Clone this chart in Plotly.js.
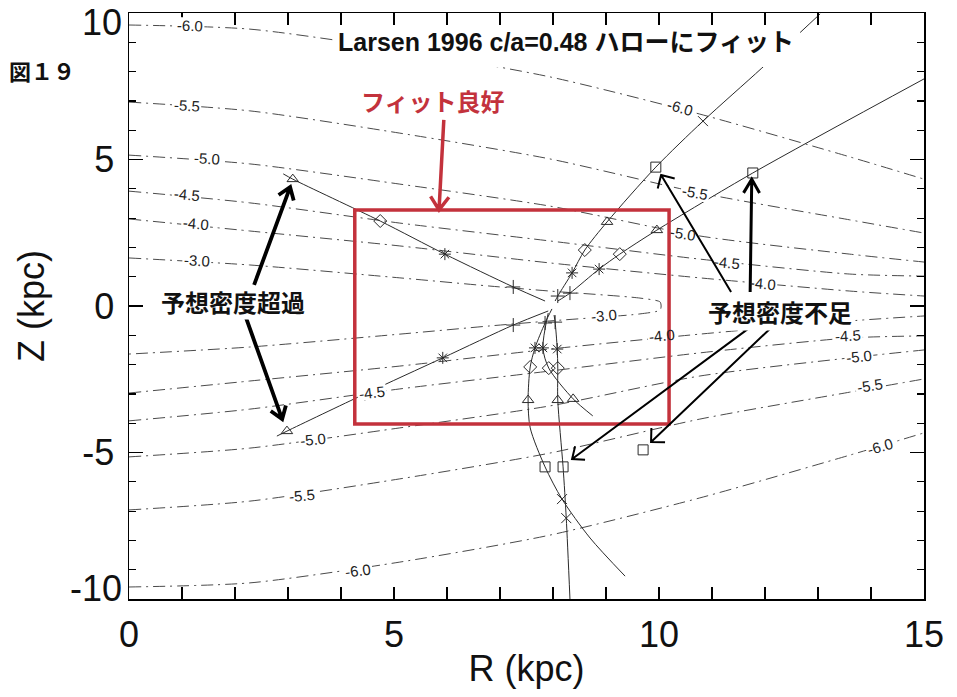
<!DOCTYPE html>
<html><head><meta charset="utf-8">
<script src="https://cdn.plot.ly/plotly-3.0.1.min.js"></script>
<style>html,body{margin:0;padding:0;background:#fff}</style>
</head><body><div id="chart" style="width:957px;height:697px"></div>
<script>
// ---------- contour data (upper half, symmetric about Z=0) ----------
const contourR = [0, 2.28, 5.11, 7.94, 10.77, 13.6, 15.0];
const contourM60 = [9.59, 9.45, 8.74, 7.82, 6.55, 5.09, 4.33];
const contourM55 = [6.96, 6.66, 5.90, 5.02, 3.86, 2.94, 2.49];
const contourM50 = [5.15, 4.85, 4.16, 3.41, 2.39, 1.77, 1.50];
const contourM45 = [3.92, 3.52, 2.83, 2.22, 1.60, 1.09, 1.02];
const contourM40 = [2.97, 2.56, 2.05, 1.47, 0.96, 0.51, 0.34];
const contourM30R = [0, 2.28, 5.11, 6.81, 7.94, 9.64, 10.02, 10.04];
const contourM30 = [1.64, 1.40, 0.96, 0.68, 0.51, 0.27, 0.14, 0.0];

// contour labels
const labelR = [1.15, 1.09, 1.47, 1.09, 1.26, 1.28, 10.40, 10.68, 10.45, 11.28, 11.96,
                8.96, 10.06, 4.58, 13.57, 3.47, 13.77, 3.26, 13.98, 4.32, 14.17];
const labelZ = [9.59, 6.86, 5.02, 3.79, 2.80, 1.54, 6.76, 3.86, 2.49, 1.47, 0.78,
                -0.34, -1.02, -2.94, -1.02, -4.54, -1.71, -6.48, -2.73, -9.04, -4.78];
const labelText = ['-6.0','-5.5','-5.0','-4.5','-4.0','-3.0','-6.0','-5.5','-5.0','-4.5','-4.0',
                   '-3.0','-4.0','-4.5','-4.5','-5.0','-5.0','-5.5','-5.5','-6.0','-6.0'];
const labelAngle = [2, 3, 3, 5, 5, 3, 16, 10, 9, 6, 5, -5, -6, -7, -3, -6, -6, -5, -9, -7, -16];

// ---------- sight lines (R, Z, marker category) ----------
const lineA_R = [2.91, 3.09, 4.74, 5.96, 7.25, 7.85];
const lineA_Z = [4.51, 4.33, 2.90, 1.77, 0.65, 0.17];
const lineA_M = ['', 'tri', 'dia', 'star', 'plus', ''];
const lineB_R = [2.79, 2.98, 4.45, 5.92, 7.25, 7.91];
const lineB_Z = [-4.44, -4.27, -3.00, -1.77, -0.65, -0.17];
const lineB_M = ['', 'tri', 'dia', 'star', 'plus', ''];
const lineC_R = [8.04, 8.09, 8.36, 8.60, 9.02, 9.94, 10.83, 11.94, 13.04];
const lineC_Z = [0.17, 0.34, 1.13, 1.91, 2.87, 4.74, 6.31, 8.12, 9.97];
const lineC_M = ['', 'plus', 'star', 'dia', 'tri', 'sq', 'x', '', ''];
const lineD_R = [8.09, 8.32, 8.87, 9.26, 9.96, 11.77, 15.0];
const lineD_Z = [0.17, 0.44, 1.26, 1.77, 2.59, 4.54, 7.75];
const lineD_M = ['', 'plus', 'star', 'dia', 'tri', 'sq', ''];
const lineF_R = [7.98, 7.85, 7.66, 7.57, 7.53, 7.57, 7.85, 8.17, 8.70, 9.36];
const lineF_Z = [-0.10, -0.58, -1.43, -2.08, -3.21, -4.16, -5.49, -6.59, -7.92, -9.22];
const lineF_M = ['', 'plus', 'star', 'dia', 'tri', '', 'sq', 'x', '', ''];
const lineG_R = [8.02, 8.04, 8.08, 8.09, 8.09, 8.19, 8.25, 8.32];
const lineG_Z = [-0.31, -0.55, -1.47, -2.12, -3.21, -5.49, -7.24, -10.0];
const lineG_M = ['', 'plus', 'star', 'dia', 'tri', 'sq', 'x', ''];
const lineH_R = [7.91, 7.81, 7.92, 8.38, 8.75];
const lineH_Z = [-0.24, -1.43, -2.12, -3.17, -3.75];
const lineH_M = ['', 'star', 'dia', 'tri', ''];
const loneR = [9.70];
const loneZ = [-4.91];
const loneM = ['sq'];

// ---------- axis ticks ----------
const xTickVals = [0, 5, 10, 15];
const xTickText = ['0', '5', '10', '15'];
const yTickVals = [-5, 0, 5];
const yTickText = ['-5', '0', '5'];
const yEndVals = [-10, 10];
const yEndText = ['-10', '10'];

// ---------- layout geometry ----------
const PL = 129, PT = 13, PW = 795, PH = 586;
const XR = [0, 15], YR = [-10, 10];
function toPx(R, Z) { return [PL + (R - XR[0]) / (XR[1] - XR[0]) * PW, PT + (YR[1] - Z) / (YR[1] - YR[0]) * PH]; }
function toData(x, y) { return [XR[0] + (x - PL) / PW * (XR[1] - XR[0]), YR[1] - (y - PT) / PH * (YR[1] - YR[0])]; }
function px2paper(x, y) { return [(x - PL) / PW, (PT + PH - y) / PH]; }

const symMap = { plus: 'cross-thin-open', star: 'asterisk-open', dia: 'diamond-open', tri: 'triangle-up-open', sq: 'square-open', x: 'x-thin-open' };
const RED = '#c3323c';
const INK = '#2a2a2a';

const traces = [];
const cdash = '12px,5px,2px,5px';
[contourM60, contourM55, contourM50, contourM45, contourM40].forEach(zs => {
  traces.push({
    x: contourR.concat([null], contourR),
    y: zs.concat([null], zs.map(v => -v)),
    mode: 'lines', hoverinfo: 'skip',
    line: { color: '#4a4a4a', width: 1, dash: cdash, shape: 'spline', smoothing: 0.7 }
  });
});
traces.push({
  x: contourM30R.concat(contourM30R.slice(0, -1).reverse()),
  y: contourM30.concat(contourM30.slice(0, -1).reverse().map(v => -v)),
  mode: 'lines', hoverinfo: 'skip',
  line: { color: '#4a4a4a', width: 1, dash: cdash, shape: 'spline', smoothing: 0.7 }
});

function addSight(R, Z, M, drawLine) {
  if (drawLine) {
    traces.push({ x: R, y: Z, mode: 'lines', hoverinfo: 'skip',
      line: { color: INK, width: 1, shape: 'spline', smoothing: 0.8 } });
  }
  const mx = [], my = [], ms = [];
  M.forEach((m, i) => { if (m) { mx.push(R[i]); my.push(Z[i]); ms.push(symMap[m]); } });
  traces.push({ x: mx, y: my, mode: 'markers', hoverinfo: 'skip',
    marker: { symbol: ms, size: 10, color: INK, line: { color: INK, width: 1 } } });
}
addSight(lineA_R, lineA_Z, lineA_M, true);
addSight(lineB_R, lineB_Z, lineB_M, true);
addSight(lineC_R, lineC_Z, lineC_M, true);
addSight(lineD_R, lineD_Z, lineD_M, true);
addSight(lineF_R, lineF_Z, lineF_M, true);
addSight(lineG_R, lineG_Z, lineG_M, true);
addSight(lineH_R, lineH_Z, lineH_M, true);
addSight(loneR, loneZ, loneM, false);
// helper trace for the secondary y axis (end tick labels)
traces.push({ x: [0], y: [0], yaxis: 'y2', mode: 'markers', marker: { opacity: 0 }, hoverinfo: 'skip' });

// ---------- shapes ----------
const shapes = [];
// white patches behind contour labels (drawn before the red box so the box stays on top)
function rotRectPath(R, Z, w, h, angDeg) {
  const C = toPx(R, Z), a = angDeg * Math.PI / 180, c = Math.cos(a), s = Math.sin(a);
  const pts = [[-w / 2, -h / 2], [w / 2, -h / 2], [w / 2, h / 2], [-w / 2, h / 2]].map(p =>
    toData(C[0] + p[0] * c - p[1] * s, C[1] + p[0] * s + p[1] * c));
  return 'M' + pts.map(p => p[0] + ',' + p[1]).join(' L') + ' Z';
}
labelText.forEach((t, i) => shapes.push({ type: 'path', xref: 'x', yref: 'y',
  path: rotRectPath(labelR[i], labelZ[i], 29, 15, labelAngle[i]),
  fillcolor: '#fff', line: { width: 0 }, layer: 'above' }));

function arrowPath(t, h, len, ang) {
  const T = toPx(t[0], t[1]), H = toPx(h[0], h[1]);
  let dx = T[0] - H[0], dy = T[1] - H[1];
  const n = Math.hypot(dx, dy); dx /= n; dy /= n;
  const a = ang * Math.PI / 180;
  const arm = s => {
    const c = Math.cos(s * a), sn = Math.sin(s * a);
    return toData(H[0] + len * (dx * c - dy * sn), H[1] + len * (dx * sn + dy * c));
  };
  const A1 = arm(1), A2 = arm(-1);
  return `M${t[0]},${t[1]} L${h[0]},${h[1]} M${A1[0]},${A1[1]} L${h[0]},${h[1]} L${A2[0]},${A2[1]}`;
}
const arrows = [
  { t: [2.36, 0.72], h: [3.04, 4.06], c: '#000', w: 3.8, len: 14, ang: 35 },
  { t: [2.19, -0.31], h: [2.89, -3.86], c: '#000', w: 3.8, len: 14, ang: 35 },
  { t: [5.94, 6.35], h: [5.85, 3.28], c: RED, w: 3.5, len: 16, ang: 35 },
  { t: [11.36, 0.48], h: [10.04, 4.47], c: '#000', w: 2, len: 14, ang: 45 },
  { t: [11.72, 0.48], h: [11.75, 4.33], c: '#000', w: 3, len: 16, ang: 30 },
  { t: [11.68, -0.78], h: [8.36, -5.22], c: '#000', w: 2, len: 13, ang: 40 },
  { t: [12.15, -0.68], h: [9.85, -4.64], c: '#000', w: 2, len: 14, ang: 45 }
];
shapes.push({ type: 'rect', xref: 'x', yref: 'y', x0: 4.26, x1: 10.19, y0: -4.03, y1: 3.28,
  line: { color: RED, width: 3.5 }, fillcolor: 'rgba(0,0,0,0)', layer: 'above' });
arrows.forEach(a => shapes.push({ type: 'path', xref: 'x', yref: 'y', path: arrowPath(a.t, a.h, a.len, a.ang),
  line: { color: a.c, width: a.w }, layer: 'above' }));
// white box behind the title
const tb0 = px2paper(336, 67), tb1 = px2paper(800, 26);
shapes.push({ type: 'rect', xref: 'paper', yref: 'paper', x0: tb0[0], x1: tb1[0], y0: tb0[1], y1: tb1[1],
  line: { width: 0 }, fillcolor: '#fff', layer: 'above' });

// ---------- annotations ----------
const annotations = [];
labelText.forEach((t, i) => annotations.push({
  x: labelR[i], y: labelZ[i], xref: 'x', yref: 'y', text: t, showarrow: false,
  textangle: labelAngle[i], borderpad: 0,
  font: { family: 'Liberation Sans, Arial, sans-serif', size: 15, color: '#222' }
}));
const JP = 'Liberation Sans, Noto Sans CJK JP, sans-serif';
function addText(txt, cx, cy, size, color, bg, pad) {
  const p = px2paper(cx, cy);
  annotations.push({ x: p[0], y: p[1], xref: 'paper', yref: 'paper', text: '<b>' + txt + '</b>', showarrow: false,
    xanchor: 'center', yanchor: 'middle', bgcolor: bg || 'rgba(0,0,0,0)', borderpad: pad || 0,
    font: { family: JP, size: size, color: color } });
}
addText('Larsen 1996 c/a=0.48 ハローにフィット', 566, 42, 25, '#111');
addText('図１９', 42, 73, 22, '#111');
addText('フィット良好', 433, 103, 24, RED);
addText('予想密度超過', 233, 303, 24, '#111', '#fff', 2);
addText('予想密度不足', 780, 313, 24, '#111', '#fff', 3);

const tickFont = { family: 'Liberation Sans, Arial, sans-serif', size: 36, color: '#111' };
const titleFont = { family: 'Liberation Sans, Arial, sans-serif', size: 36, color: '#111' };
const layout = {
  width: 957, height: 697,
  margin: { l: PL, r: 957 - PL - PW, t: PT, b: 697 - PT - PH },
  paper_bgcolor: '#fff', plot_bgcolor: '#fff', showlegend: false,
  font: { family: 'Liberation Sans, Arial, sans-serif' },
  xaxis: {
    range: XR, tickvals: xTickVals, ticktext: xTickText, ticks: 'inside', ticklen: 12, tickwidth: 1.3, tickcolor: '#000',
    mirror: 'allticks', showline: true, linecolor: '#000', linewidth: 1.5, showgrid: false, zeroline: false,
    minor: { dtick: 1, ticks: 'inside', ticklen: 6, tickwidth: 1.2, tickcolor: '#000', showgrid: false },
    tickfont: tickFont, ticklabelstandoff: 3,
    title: { text: 'R (kpc)', font: titleFont, standoff: 2 }
  },
  yaxis: {
    range: YR, tickvals: yTickVals, ticktext: yTickText, ticks: 'inside', ticklen: 14, tickwidth: 1.3, tickcolor: '#000',
    mirror: 'allticks', showline: true, linecolor: '#000', linewidth: 1.5, showgrid: false, zeroline: false,
    minor: { dtick: 1, ticks: 'inside', ticklen: 7, tickwidth: 1.2, tickcolor: '#000', showgrid: false },
    tickfont: tickFont, ticklabelstandoff: 6,
    title: { text: 'Z (kpc)', font: titleFont, standoff: 26 }
  },
  yaxis2: {
    overlaying: 'y', side: 'left', range: [-10.389, 10.318], tickvals: yEndVals, ticktext: yEndText,
    showline: false, ticks: '', showgrid: false, zeroline: false,
    tickfont: tickFont, ticklabelstandoff: 6
  },
  shapes: shapes,
  annotations: annotations
};
Plotly.newPlot('chart', traces, layout, { displayModeBar: false, staticPlot: true });
</script>
</body></html>
